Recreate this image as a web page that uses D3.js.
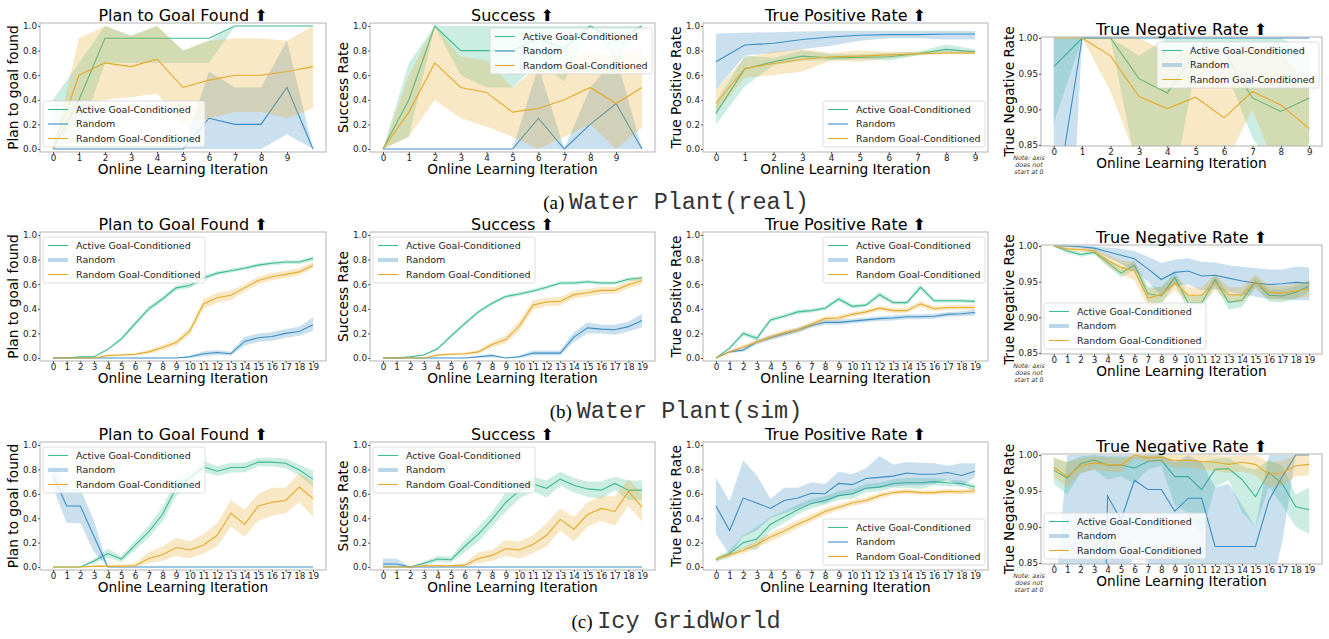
<!DOCTYPE html>
<html>
<head>
<meta charset="utf-8">
<script src="https://cdn.jsdelivr.net/npm/d3@7"></script>
<style>
  body { margin: 0; background: #fff; }
  svg { font-family: "DejaVu Sans", sans-serif; }
</style>
</head>
<body>
<div id="chart"></div>
<script>
// iterations and ticks
const iters11 = [0, 1, 2, 3, 4, 5, 6, 7, 8, 9, 10];
const iters10 = [0, 1, 2, 3, 4, 5, 6, 7, 8, 9];
const iters20 = [0, 1, 2, 3, 4, 5, 6, 7, 8, 9, 10, 11, 12, 13, 14, 15, 16, 17, 18, 19];
const ticks10 = [0, 1, 2, 3, 4, 5, 6, 7, 8, 9];
const ticksRate = [0, 0.2, 0.4, 0.6, 0.8, 1.0];
const ticksTnr = [0.85, 0.9, 0.95, 1.0];

const seriesNames = ["Active Goal-Conditioned", "Random", "Random Goal-Conditioned"];
const seriesColors = ["#3dbb92", "#3b8ec4", "#e6aa2c"];
const titles = ["Plan to Goal Found \u2B06", "Success \u2B06", "True Positive Rate \u2B06", "True Negative Rate \u2B06"];
const yLabels = ["Plan to goal found", "Success Rate", "True Positive Rate", "True Negative Rate"];
const captionTags = ["(a)", "(b)", "(c)"];
const captionNames = ["Water Plant(real)", "Water Plant(sim)", "Icy GridWorld"];
const noteLines = ["Note: axis", "does not", "start at 0"];

// (a) water plant real - plan to goal found
const realPlanActive = [0.0, 0.4, 0.9, 0.9, 0.9, 0.9, 0.9, 1.0, 1.0, 1.0, 1.0];
const realPlanActiveLo = [0.0, 0.1, 0.7, 0.7, 0.7, 0.7, 0.7, 1.0, 1.0, 1.0, 1.0];
const realPlanActiveHi = [0.4, 0.7, 1.0, 0.92, 1.0, 0.8, 0.88, 1.0, 1.0, 1.0, 1.0];
const realPlanRandom = [0, 0, 0, 0, 0, 0, 0.25, 0.2, 0.2, 0.5, 0.0];
const realPlanRandomLo = [0, 0, 0, 0, 0, 0, 0, 0, 0, 0.12, 0];
const realPlanRandomHi = [0, 0, 0, 0, 0, 0, 0.63, 0.5, 0.5, 0.88, 0];
const realPlanRgc = [0, 0.6, 0.7, 0.67, 0.73, 0.5, 0.56, 0.6, 0.6, 0.63, 0.67];
const realPlanRgcLo = [0, 0.27, 0.4, 0.42, 0.45, 0.2, 0.25, 0.3, 0.3, 0.25, 0.33];
const realPlanRgcHi = [0, 0.9, 1.0, 0.92, 1.0, 0.8, 0.88, 0.9, 0.9, 0.88, 1.0];

// (a) success
const realSuccActive = [0, 0.4, 1.0, 0.8, 0.8, 0.8, 0.9, 0.82, 1.0, 0.88, 1.0];
const realSuccActiveLo = [0, 0.1, 1.0, 0.6, 0.5, 0.5, 0.7, 0.55, 1.0, 0.7, 1.0];
const realSuccActiveHi = [0, 0.7, 1.0, 1.0, 1.0, 1.0, 1.0, 1.0, 1.0, 1.0, 1.0];
const realSuccRandom = [0, 0, 0, 0, 0, 0, 0.25, 0, 0.2, 0.37, 0];
const realSuccRandomLo = [0, 0, 0, 0, 0, 0, 0, 0, 0, 0, 0];
const realSuccRandomHi = [0, 0, 0, 0, 0, 0, 0.67, 0, 0.5, 0.75, 0];
const realSuccRgc = [0, 0.3, 0.7, 0.5, 0.46, 0.3, 0.33, 0.4, 0.5, 0.37, 0.5];
const realSuccRgcLo = [0, 0.1, 0.4, 0.25, 0.18, 0.1, 0.0, 0.1, 0.2, 0.0, 0.17];
const realSuccRgcHi = [0, 0.6, 1.0, 0.75, 0.72, 0.5, 0.67, 0.7, 0.8, 0.75, 0.83];

// (a) true positive rate
const realTprActive = [0.29, 0.65, 0.71, 0.755, 0.74, 0.745, 0.75, 0.775, 0.81, 0.79];
const realTprActiveLo = [0.2, 0.51, 0.68, 0.72, 0.72, 0.73, 0.72, 0.76, 0.78, 0.77];
const realTprActiveHi = [0.38, 0.76, 0.74, 0.8, 0.77, 0.77, 0.78, 0.79, 0.85, 0.81];
const realTprRandom = [0.71, 0.845, 0.86, 0.89, 0.91, 0.925, 0.93, 0.93, 0.935, 0.935];
const realTprRandomLo = [0.48, 0.76, 0.78, 0.81, 0.84, 0.88, 0.9, 0.9, 0.89, 0.89];
const realTprRandomHi = [0.94, 0.945, 0.95, 0.955, 0.96, 0.96, 0.96, 0.96, 0.96, 0.96];
const realTprRgc = [0.37, 0.655, 0.695, 0.73, 0.75, 0.755, 0.765, 0.775, 0.78, 0.78];
const realTprRgcLo = [0.3, 0.58, 0.6, 0.63, 0.72, 0.71, 0.74, 0.76, 0.77, 0.77];
const realTprRgcHi = [0.48, 0.74, 0.79, 0.81, 0.78, 0.8, 0.79, 0.79, 0.8, 0.8];

// (a) true negative rate
const realTnrActive = [0.96, 1.0, 1.0, 0.943, 0.923, 0.98, 0.98, 0.916, 0.897, 0.916];
const realTnrActiveLo = [0.88, 1.0, 1.0, 0.8, 0.75, 0.96, 0.96, 0.86, 0.8, 0.8];
const realTnrActiveHi = [1.0, 1.0, 1.0, 0.975, 1.0, 1.0, 1.0, 1.0, 1.0, 0.98];
const realTnrRandom = [0.75, 1.0, 1.0, 1.0, 1.0, 1.0, 1.0, 1.0, 1.0, 1.0];
const realTnrRandomLo = [0.25, 1.0, 1.0, 1.0, 1.0, 1.0, 1.0, 1.0, 1.0, 1.0];
const realTnrRandomHi = [1.0, 1.0, 1.0, 1.0, 1.0, 1.0, 1.0, 1.0, 1.0, 1.0];
const realTnrRgc = [1.0, 1.0, 0.975, 0.918, 0.901, 0.917, 0.888, 0.925, 0.906, 0.873];
const realTnrRgcLo = [1.0, 1.0, 0.925, 0.82, 0.8, 0.82, 0.82, 0.9, 0.8, 0.855];
const realTnrRgcHi = [1.0, 1.0, 1.0, 1.0, 0.98, 0.98, 0.97, 0.99, 0.98, 0.93];

// (b) water plant sim - plan to goal found
const simPlanActive = [0, 0, 0.01, 0.01, 0.07, 0.155, 0.28, 0.4, 0.48, 0.57, 0.59, 0.65, 0.69, 0.71, 0.73, 0.755, 0.77, 0.78, 0.78, 0.81];
const simPlanActiveLo = [0, 0, 0.005, 0.005, 0.06, 0.14, 0.26, 0.38, 0.46, 0.55, 0.57, 0.63, 0.675, 0.695, 0.715, 0.74, 0.755, 0.765, 0.765, 0.79];
const simPlanActiveHi = [0, 0, 0.015, 0.015, 0.08, 0.17, 0.3, 0.42, 0.5, 0.59, 0.61, 0.67, 0.705, 0.725, 0.745, 0.77, 0.785, 0.795, 0.795, 0.83];
const simPlanRandom = [0, 0, 0, 0, 0, 0, 0, 0, 0, 0, 0.01, 0.035, 0.045, 0.035, 0.135, 0.165, 0.175, 0.2, 0.215, 0.27];
const simPlanRandomLo = [0, 0, 0, 0, 0, 0, 0, 0, 0, 0, 0.0, 0.015, 0.025, 0.02, 0.1, 0.13, 0.14, 0.165, 0.18, 0.22];
const simPlanRandomHi = [0, 0, 0, 0, 0, 0, 0, 0, 0, 0, 0.02, 0.055, 0.065, 0.05, 0.17, 0.2, 0.21, 0.235, 0.255, 0.33];
const simPlanRgc = [0, 0, 0, 0, 0.02, 0.025, 0.03, 0.05, 0.085, 0.125, 0.22, 0.44, 0.49, 0.51, 0.57, 0.63, 0.66, 0.68, 0.7, 0.755];
const simPlanRgcLo = [0, 0, 0, 0, 0.01, 0.015, 0.02, 0.035, 0.065, 0.1, 0.19, 0.4, 0.45, 0.47, 0.54, 0.6, 0.63, 0.65, 0.67, 0.73];
const simPlanRgcHi = [0, 0, 0, 0, 0.03, 0.035, 0.04, 0.065, 0.105, 0.15, 0.25, 0.48, 0.53, 0.55, 0.6, 0.66, 0.69, 0.71, 0.73, 0.78];

// (b) success
const simSuccActive = [0, 0, 0.01, 0.025, 0.075, 0.18, 0.28, 0.375, 0.445, 0.5, 0.52, 0.545, 0.575, 0.61, 0.61, 0.62, 0.61, 0.61, 0.64, 0.65];
const simSuccActiveLo = [0, 0, 0.005, 0.02, 0.065, 0.165, 0.265, 0.36, 0.43, 0.485, 0.505, 0.53, 0.56, 0.595, 0.595, 0.605, 0.595, 0.595, 0.625, 0.635];
const simSuccActiveHi = [0, 0, 0.015, 0.03, 0.085, 0.195, 0.295, 0.39, 0.46, 0.515, 0.535, 0.56, 0.59, 0.625, 0.625, 0.635, 0.625, 0.625, 0.655, 0.665];
const simSuccRandom = [0, 0, 0, 0, 0, 0, 0, 0.01, 0.02, 0, 0.01, 0.04, 0.04, 0.04, 0.17, 0.245, 0.235, 0.23, 0.255, 0.305];
const simSuccRandomLo = [0, 0, 0, 0, 0, 0, 0, 0.0, 0.005, 0, 0, 0.02, 0.02, 0.02, 0.13, 0.2, 0.2, 0.19, 0.215, 0.25];
const simSuccRandomHi = [0, 0, 0, 0, 0, 0, 0, 0.02, 0.035, 0, 0.02, 0.06, 0.06, 0.06, 0.21, 0.29, 0.27, 0.27, 0.295, 0.36];
const simSuccRgc = [0, 0, 0, 0, 0.025, 0.03, 0.035, 0.05, 0.11, 0.15, 0.26, 0.43, 0.455, 0.46, 0.515, 0.53, 0.55, 0.55, 0.595, 0.63];
const simSuccRgcLo = [0, 0, 0, 0, 0.015, 0.02, 0.025, 0.035, 0.085, 0.12, 0.22, 0.39, 0.42, 0.425, 0.485, 0.5, 0.52, 0.52, 0.565, 0.6];
const simSuccRgcHi = [0, 0, 0, 0, 0.035, 0.04, 0.045, 0.065, 0.135, 0.18, 0.3, 0.47, 0.49, 0.495, 0.545, 0.56, 0.58, 0.58, 0.625, 0.66];

// (b) true positive rate
const simTprActive = [0, 0.08, 0.2, 0.16, 0.31, 0.34, 0.375, 0.385, 0.405, 0.48, 0.42, 0.43, 0.515, 0.45, 0.45, 0.575, 0.465, 0.465, 0.465, 0.46];
const simTprActiveLo = [0, 0.07, 0.18, 0.14, 0.29, 0.325, 0.355, 0.37, 0.39, 0.46, 0.405, 0.415, 0.49, 0.435, 0.435, 0.55, 0.45, 0.45, 0.45, 0.445];
const simTprActiveHi = [0, 0.09, 0.22, 0.18, 0.33, 0.355, 0.395, 0.4, 0.42, 0.5, 0.435, 0.445, 0.54, 0.465, 0.465, 0.6, 0.48, 0.48, 0.48, 0.475];
const simTprRandom = [0, 0.05, 0.065, 0.13, 0.165, 0.195, 0.225, 0.265, 0.29, 0.29, 0.3, 0.31, 0.32, 0.325, 0.335, 0.335, 0.34, 0.355, 0.36, 0.37];
const simTprRandomLo = [0, 0.04, 0.05, 0.11, 0.145, 0.175, 0.205, 0.245, 0.27, 0.27, 0.28, 0.29, 0.3, 0.305, 0.315, 0.315, 0.32, 0.335, 0.34, 0.345];
const simTprRandomHi = [0, 0.06, 0.08, 0.15, 0.185, 0.215, 0.245, 0.285, 0.31, 0.31, 0.32, 0.33, 0.34, 0.345, 0.355, 0.355, 0.36, 0.375, 0.38, 0.395];
const simTprRgc = [0, 0.05, 0.09, 0.13, 0.17, 0.205, 0.23, 0.275, 0.32, 0.325, 0.355, 0.375, 0.405, 0.385, 0.385, 0.44, 0.4, 0.41, 0.41, 0.41];
const simTprRgcLo = [0, 0.04, 0.075, 0.115, 0.15, 0.185, 0.205, 0.255, 0.3, 0.305, 0.335, 0.355, 0.385, 0.365, 0.365, 0.415, 0.38, 0.39, 0.39, 0.39];
const simTprRgcHi = [0, 0.06, 0.105, 0.145, 0.19, 0.225, 0.25, 0.295, 0.34, 0.345, 0.375, 0.395, 0.425, 0.405, 0.405, 0.465, 0.42, 0.43, 0.43, 0.43];

// (b) true negative rate
const simTnrActive = [1.0, 0.993, 0.988, 0.991, 0.977, 0.962, 0.973, 0.933, 0.93, 0.956, 0.92, 0.92, 0.953, 0.921, 0.924, 0.95, 0.931, 0.93, 0.935, 0.944];
const simTnrActiveLo = [1.0, 0.99, 0.985, 0.988, 0.972, 0.956, 0.967, 0.922, 0.918, 0.947, 0.91, 0.91, 0.945, 0.911, 0.914, 0.943, 0.922, 0.921, 0.926, 0.936];
const simTnrActiveHi = [1.0, 0.996, 0.991, 0.994, 0.982, 0.968, 0.979, 0.944, 0.942, 0.965, 0.93, 0.93, 0.961, 0.931, 0.934, 0.957, 0.94, 0.939, 0.944, 0.952];
const simTnrRandom = [1.0, 1.0, 0.999, 0.997, 0.992, 0.987, 0.982, 0.968, 0.953, 0.963, 0.965, 0.958, 0.959, 0.955, 0.951, 0.948, 0.946, 0.947, 0.949, 0.948];
const simTnrRandomLo = [1.0, 0.999, 0.997, 0.993, 0.984, 0.975, 0.965, 0.95, 0.93, 0.945, 0.946, 0.938, 0.94, 0.936, 0.932, 0.929, 0.926, 0.926, 0.924, 0.924];
const simTnrRandomHi = [1.0, 1.0, 1.0, 1.0, 0.998, 0.996, 0.993, 0.985, 0.976, 0.981, 0.983, 0.978, 0.977, 0.973, 0.971, 0.969, 0.967, 0.967, 0.971, 0.97];
const simTnrRgc = [1.0, 0.996, 0.995, 0.993, 0.98, 0.97, 0.965, 0.927, 0.932, 0.948, 0.931, 0.931, 0.949, 0.932, 0.931, 0.95, 0.935, 0.934, 0.937, 0.94];
const simTnrRgcLo = [1.0, 0.993, 0.992, 0.99, 0.972, 0.96, 0.952, 0.915, 0.922, 0.938, 0.92, 0.92, 0.938, 0.922, 0.92, 0.94, 0.925, 0.924, 0.927, 0.929];
const simTnrRgcHi = [1.0, 0.999, 0.998, 0.996, 0.988, 0.98, 0.978, 0.94, 0.943, 0.958, 0.942, 0.942, 0.96, 0.942, 0.942, 0.96, 0.945, 0.944, 0.947, 0.951];

// (c) icy gridworld - plan to goal found
const gridPlanActive = [0, 0, 0, 0.05, 0.11, 0.065, 0.18, 0.29, 0.43, 0.65, 0.73, 0.82, 0.785, 0.815, 0.815, 0.86, 0.86, 0.85, 0.795, 0.72];
const gridPlanActiveLo = [0, 0, 0, 0.03, 0.075, 0.04, 0.14, 0.24, 0.37, 0.58, 0.68, 0.78, 0.745, 0.775, 0.775, 0.825, 0.825, 0.81, 0.75, 0.66];
const gridPlanActiveHi = [0, 0, 0, 0.07, 0.15, 0.09, 0.22, 0.34, 0.49, 0.72, 0.78, 0.87, 0.825, 0.855, 0.855, 0.895, 0.895, 0.89, 0.84, 0.79];
const gridPlanRandom = [0.75, 0.5, 0.5, 0.25, 0, 0, 0, 0, 0, 0, 0, 0, 0, 0, 0, 0, 0, 0, 0, 0];
const gridPlanRandomLo = [0.65, 0.36, 0.36, 0.12, 0, 0, 0, 0, 0, 0, 0, 0, 0, 0, 0, 0, 0, 0, 0, 0];
const gridPlanRandomHi = [0.86, 0.64, 0.64, 0.38, 0, 0, 0, 0, 0, 0, 0, 0, 0, 0, 0, 0, 0, 0, 0, 0];
const gridPlanRgc = [0, 0, 0, 0.005, 0.005, 0.005, 0.01, 0.07, 0.1, 0.16, 0.14, 0.18, 0.26, 0.44, 0.35, 0.5, 0.53, 0.545, 0.655, 0.56];
const gridPlanRgcLo = [0, 0, 0, 0, 0, 0, 0, 0.03, 0.05, 0.09, 0.07, 0.11, 0.17, 0.33, 0.25, 0.38, 0.42, 0.44, 0.53, 0.41];
const gridPlanRgcHi = [0, 0, 0, 0.02, 0.02, 0.02, 0.03, 0.12, 0.17, 0.24, 0.21, 0.27, 0.36, 0.55, 0.47, 0.6, 0.65, 0.65, 0.77, 0.7];

// (c) success
const gridSuccActive = [0, 0, 0, 0.03, 0.065, 0.06, 0.17, 0.27, 0.39, 0.53, 0.625, 0.68, 0.645, 0.72, 0.67, 0.64, 0.63, 0.685, 0.63, 0.63];
const gridSuccActiveLo = [0, 0, 0, 0.015, 0.04, 0.035, 0.12, 0.21, 0.33, 0.45, 0.56, 0.62, 0.57, 0.665, 0.61, 0.575, 0.56, 0.63, 0.55, 0.55];
const gridSuccActiveHi = [0, 0, 0, 0.045, 0.09, 0.085, 0.22, 0.33, 0.45, 0.61, 0.69, 0.74, 0.71, 0.78, 0.73, 0.7, 0.7, 0.74, 0.71, 0.71];
const gridSuccRandom = [0.025, 0.025, 0, 0, 0, 0, 0, 0, 0, 0, 0, 0, 0, 0, 0, 0, 0, 0, 0, 0];
const gridSuccRandomLo = [0, 0, 0, 0, 0, 0, 0, 0, 0, 0, 0, 0, 0, 0, 0, 0, 0, 0, 0, 0];
const gridSuccRandomHi = [0.07, 0.07, 0, 0, 0, 0, 0, 0, 0, 0, 0, 0, 0, 0, 0, 0, 0, 0, 0, 0];
const gridSuccRgc = [0, 0, 0, 0.01, 0.01, 0.01, 0.015, 0.07, 0.095, 0.15, 0.14, 0.185, 0.26, 0.39, 0.31, 0.43, 0.48, 0.455, 0.62, 0.49];
const gridSuccRgcLo = [0, 0, 0, 0, 0, 0, 0, 0.03, 0.05, 0.09, 0.07, 0.11, 0.17, 0.3, 0.21, 0.33, 0.38, 0.34, 0.5, 0.37];
const gridSuccRgcHi = [0, 0, 0, 0.02, 0.02, 0.02, 0.03, 0.12, 0.14, 0.22, 0.21, 0.26, 0.36, 0.48, 0.41, 0.53, 0.58, 0.58, 0.72, 0.6];

// (c) true positive rate
const gridTprActive = [0.06, 0.11, 0.2, 0.23, 0.35, 0.41, 0.47, 0.52, 0.545, 0.585, 0.6, 0.645, 0.655, 0.685, 0.69, 0.69, 0.7, 0.69, 0.685, 0.655];
const gridTprActiveLo = [0.04, 0.08, 0.15, 0.14, 0.3, 0.36, 0.43, 0.48, 0.51, 0.55, 0.56, 0.61, 0.62, 0.65, 0.65, 0.64, 0.67, 0.66, 0.66, 0.63];
const gridTprActiveHi = [0.08, 0.14, 0.26, 0.33, 0.41, 0.46, 0.51, 0.56, 0.58, 0.62, 0.64, 0.68, 0.69, 0.72, 0.73, 0.73, 0.73, 0.72, 0.71, 0.68];
const gridTprRandom = [0.5, 0.3, 0.565, 0.525, 0.48, 0.545, 0.565, 0.605, 0.6, 0.685, 0.675, 0.725, 0.735, 0.745, 0.77, 0.76, 0.76, 0.775, 0.75, 0.785];
const gridTprRandomLo = [0.27, 0.1, 0.25, 0.3, 0.4, 0.44, 0.48, 0.52, 0.52, 0.58, 0.59, 0.64, 0.65, 0.66, 0.67, 0.67, 0.68, 0.72, 0.66, 0.74];
const gridTprRandomHi = [0.73, 0.54, 0.875, 0.75, 0.56, 0.65, 0.65, 0.695, 0.68, 0.78, 0.76, 0.81, 0.91, 0.84, 0.86, 0.855, 0.85, 0.83, 0.85, 0.85];
const gridTprRgc = [0.065, 0.1, 0.135, 0.185, 0.245, 0.295, 0.35, 0.4, 0.455, 0.49, 0.525, 0.545, 0.585, 0.61, 0.62, 0.61, 0.61, 0.62, 0.615, 0.625];
const gridTprRgcLo = [0.05, 0.08, 0.11, 0.155, 0.21, 0.26, 0.315, 0.37, 0.425, 0.465, 0.5, 0.52, 0.56, 0.59, 0.6, 0.59, 0.59, 0.6, 0.595, 0.6];
const gridTprRgcHi = [0.08, 0.12, 0.16, 0.215, 0.28, 0.33, 0.385, 0.43, 0.485, 0.515, 0.55, 0.57, 0.61, 0.63, 0.64, 0.63, 0.63, 0.64, 0.635, 0.65];

// (c) true negative rate
const gridTnrActive = [0.979, 0.968, 0.988, 0.993, 0.986, 0.986, 0.982, 0.991, 0.993, 0.97, 0.97, 0.952, 0.98, 0.981, 0.966, 0.942, 0.976, 0.96, 0.928, 0.924];
const gridTnrActiveLo = [0.96, 0.945, 0.975, 0.98, 0.966, 0.97, 0.96, 0.98, 0.985, 0.93, 0.92, 0.89, 0.955, 0.965, 0.92, 0.9, 0.955, 0.93, 0.9, 0.89];
const gridTnrActiveHi = [0.996, 0.99, 0.998, 1.0, 0.998, 0.998, 0.997, 0.999, 1.0, 0.99, 0.995, 0.99, 0.995, 0.996, 0.985, 0.98, 0.993, 0.985, 0.945, 0.955];
const gridTnrRandom = [0, 0, 0, 0, 0.943, 0.91, 0.965, 0.952, 0.952, 0.922, 0.94, 0.94, 0.873, 0.873, 0.873, 0.873, 0.937, 0.97, 1.0, 1.0];
const gridTnrRandomLo = [0, 0, 0, 0, 0.75, 0.75, 0.88, 0.85, 0.8, 0.8, 0.8, 0.8, 0.6, 0.6, 0.6, 0.6, 0.8, 0.88, 1.0, 1.0];
const gridTnrRandomHi = [0.78, 1.0, 1.0, 1.0, 1.0, 1.0, 1.0, 1.0, 1.0, 0.99, 1.0, 0.99, 0.955, 0.96, 0.93, 0.9, 1.0, 1.0, 1.0, 1.0];
const gridTnrRgc = [0.983, 0.97, 0.985, 0.989, 0.987, 0.986, 1.0, 0.996, 0.997, 0.992, 0.993, 0.991, 0.99, 0.987, 0.99, 0.987, 0.973, 0.975, 0.985, 0.987];
const gridTnrRgcLo = [0.97, 0.955, 0.975, 0.98, 0.977, 0.976, 0.995, 0.99, 0.99, 0.982, 0.983, 0.98, 0.978, 0.975, 0.977, 0.972, 0.955, 0.958, 0.97, 0.972];
const gridTnrRgcHi = [0.997, 0.99, 0.995, 0.998, 0.997, 0.996, 1.0, 1.0, 1.0, 1.0, 1.0, 1.0, 1.0, 0.998, 1.0, 1.0, 0.99, 0.992, 1.0, 1.0];

// panel table built from the arrays above
const panels = [
  { row: 0, col: 0, xs: iters11, ticks: ticks10, legend: "ll", thick: false,
    series: [[realPlanActive, realPlanActiveLo, realPlanActiveHi], [realPlanRandom, realPlanRandomLo, realPlanRandomHi], [realPlanRgc, realPlanRgcLo, realPlanRgcHi]] },
  { row: 0, col: 1, xs: iters11, ticks: ticks10, legend: "ur", thick: false,
    series: [[realSuccActive, realSuccActiveLo, realSuccActiveHi], [realSuccRandom, realSuccRandomLo, realSuccRandomHi], [realSuccRgc, realSuccRgcLo, realSuccRgcHi]] },
  { row: 0, col: 2, xs: iters10, ticks: iters10, legend: "lr", thick: false,
    series: [[realTprActive, realTprActiveLo, realTprActiveHi], [realTprRandom, realTprRandomLo, realTprRandomHi], [realTprRgc, realTprRgcLo, realTprRgcHi]] },
  { row: 0, col: 3, xs: iters10, ticks: iters10, legend: "ur", thick: true,
    series: [[realTnrActive, realTnrActiveLo, realTnrActiveHi], [realTnrRandom, realTnrRandomLo, realTnrRandomHi], [realTnrRgc, realTnrRgcLo, realTnrRgcHi]] },
  { row: 1, col: 0, xs: iters20, ticks: iters20, legend: "ul", thick: true,
    series: [[simPlanActive, simPlanActiveLo, simPlanActiveHi], [simPlanRandom, simPlanRandomLo, simPlanRandomHi], [simPlanRgc, simPlanRgcLo, simPlanRgcHi]] },
  { row: 1, col: 1, xs: iters20, ticks: iters20, legend: "ul", thick: true,
    series: [[simSuccActive, simSuccActiveLo, simSuccActiveHi], [simSuccRandom, simSuccRandomLo, simSuccRandomHi], [simSuccRgc, simSuccRgcLo, simSuccRgcHi]] },
  { row: 1, col: 2, xs: iters20, ticks: iters20, legend: "ur", thick: true,
    series: [[simTprActive, simTprActiveLo, simTprActiveHi], [simTprRandom, simTprRandomLo, simTprRandomHi], [simTprRgc, simTprRgcLo, simTprRgcHi]] },
  { row: 1, col: 3, xs: iters20, ticks: iters20, legend: "ll", thick: true,
    series: [[simTnrActive, simTnrActiveLo, simTnrActiveHi], [simTnrRandom, simTnrRandomLo, simTnrRandomHi], [simTnrRgc, simTnrRgcLo, simTnrRgcHi]] },
  { row: 2, col: 0, xs: iters20, ticks: iters20, legend: "ul", thick: true,
    series: [[gridPlanActive, gridPlanActiveLo, gridPlanActiveHi], [gridPlanRandom, gridPlanRandomLo, gridPlanRandomHi], [gridPlanRgc, gridPlanRgcLo, gridPlanRgcHi]] },
  { row: 2, col: 1, xs: iters20, ticks: iters20, legend: "ul", thick: true,
    series: [[gridSuccActive, gridSuccActiveLo, gridSuccActiveHi], [gridSuccRandom, gridSuccRandomLo, gridSuccRandomHi], [gridSuccRgc, gridSuccRgcLo, gridSuccRgcHi]] },
  { row: 2, col: 2, xs: iters20, ticks: iters20, legend: "lr", thick: false,
    series: [[gridTprActive, gridTprActiveLo, gridTprActiveHi], [gridTprRandom, gridTprRandomLo, gridTprRandomHi], [gridTprRgc, gridTprRgcLo, gridTprRgcHi]] },
  { row: 2, col: 3, xs: iters20, ticks: iters20, legend: "ll", thick: true,
    series: [[gridTnrActive, gridTnrActiveLo, gridTnrActiveHi], [gridTnrRandom, gridTnrRandomLo, gridTnrRandomHi], [gridTnrRgc, gridTnrRgcLo, gridTnrRgcHi]] }
];

// layout
const width = 1329;
const height = 639;
const colX = [[40, 326], [370, 655], [703, 988], [1041, 1322]];
const rowY = [[23, 152], [232, 361], [442, 570]];
const rowYTnr = [[37, 146], [245, 354], [454, 564]];
const captionY = [209, 418, 628];

const svg = d3.select("#chart").append("svg")
  .attr("width", width)
  .attr("height", height);

panels.forEach((p, i) => {
  const tnr = p.col === 3;
  const [x0, x1] = colX[p.col];
  const [y0, y1] = tnr ? rowYTnr[p.row] : rowY[p.row];
  const n = p.xs.length - 1;

  const x = d3.scaleLinear().domain([-0.05 * n, n * 1.05]).range([x0, x1]);
  const y = tnr
    ? d3.scaleLinear().domain([0.85, 1]).range([y1 - 1, y0 + 1])
    : d3.scaleLinear().domain([0, 1]).range([y1 - 3, y0 + 3]);

  const g = svg.append("g");

  // clip so the bands stay inside the frame
  svg.append("clipPath").attr("id", "clip" + i)
    .append("rect")
    .attr("x", x0).attr("y", y0)
    .attr("width", x1 - x0).attr("height", y1 - y0);

  const plot = g.append("g").attr("clip-path", `url(#clip${i})`);

  p.series.forEach((s, k) => {
    const pts = p.xs.map((v, j) => ({ x: v, m: s[0][j], lo: s[1][j], hi: s[2][j] }));
    plot.append("path")
      .datum(pts)
      .attr("fill", seriesColors[k])
      .attr("fill-opacity", 0.27)
      .attr("d", d3.area().x((d) => x(d.x)).y0((d) => y(d.lo)).y1((d) => y(d.hi)));
    plot.append("path")
      .datum(pts)
      .attr("fill", "none")
      .attr("stroke", seriesColors[k])
      .attr("stroke-width", 1.1)
      .attr("d", d3.line().x((d) => x(d.x)).y((d) => y(d.m)));
  });

  // frame
  g.append("rect")
    .attr("x", x0).attr("y", y0)
    .attr("width", x1 - x0).attr("height", y1 - y0)
    .attr("fill", "none")
    .attr("stroke", "#b3b3b3")
    .attr("stroke-width", 1);

  // x axis
  const xAxis = g.append("g")
    .attr("transform", `translate(0,${y1})`)
    .call(d3.axisBottom(x).tickValues(p.ticks).tickSize(2).tickPadding(0.5));
  xAxis.select(".domain").remove();
  xAxis.attr("font-family", "DejaVu Sans").attr("font-size", 8.8);
  xAxis.selectAll("line").attr("stroke", "#555");
  xAxis.selectAll("text").attr("fill", "#222");

  // y axis
  const yAxis = g.append("g")
    .attr("transform", `translate(${x0},0)`)
    .call(d3.axisLeft(y).tickValues(tnr ? ticksTnr : ticksRate)
      .tickFormat(d3.format(tnr ? ".2f" : ".1f")).tickSize(2).tickPadding(1));
  yAxis.select(".domain").remove();
  yAxis.attr("font-family", "DejaVu Sans").attr("font-size", 8.8);
  yAxis.selectAll("line").attr("stroke", "#555");
  yAxis.selectAll("text").attr("fill", "#222");

  // title
  g.append("text")
    .attr("x", (x0 + x1) / 2)
    .attr("y", y0 - 2.5)
    .attr("text-anchor", "middle")
    .style("font-size", "16px")
    .style("fill", "#000")
    .text(titles[p.col]);

  // x label
  g.append("text")
    .attr("x", (x0 + x1) / 2)
    .attr("y", y1 + 22)
    .attr("text-anchor", "middle")
    .style("font-size", "13.7px")
    .style("fill", "#000")
    .text("Online Learning Iteration");

  // y label
  g.append("text")
    .attr("transform", `translate(${x0 - (tnr ? 32 : 27)},${(y0 + y1) / 2}) rotate(-90)`)
    .attr("dy", "0.35em")
    .attr("text-anchor", "middle")
    .style("font-size", "13.7px")
    .style("fill", "#000")
    .text(yLabels[p.col]);

  // note under the tnr axis
  if (tnr) {
    noteLines.forEach((t, j) => {
      g.append("text")
        .attr("x", x0 - 12)
        .attr("y", y1 + 14 + j * 7)
        .attr("text-anchor", "middle")
        .style("font-size", "6.3px")
        .style("font-style", "italic")
        .style("fill", "#333")
        .text(t);
    });
  }

  // legend
  const lw = 162;
  const lh = 46;
  const lx = p.legend[1] === "l" ? x0 + 3 : x1 - 3 - lw;
  const ly = p.legend[0] === "u" ? y0 + 5 : y1 - 5 - lh;
  const leg = g.append("g").attr("transform", `translate(${lx},${ly})`);
  leg.append("rect")
    .attr("width", lw).attr("height", lh)
    .attr("rx", 2)
    .attr("fill", "#fff").attr("fill-opacity", 0.8)
    .attr("stroke", "#d6d6d6").attr("stroke-width", 0.8);
  seriesNames.forEach((name, k) => {
    const cy = 8.5 + k * 14.5;
    const thick = p.thick && k === 1;
    leg.append("line")
      .attr("x1", 5).attr("x2", 25)
      .attr("y1", cy).attr("y2", cy)
      .attr("stroke", seriesColors[k])
      .attr("stroke-opacity", thick ? 0.35 : 1)
      .attr("stroke-width", thick ? 4 : 1.1);
    leg.append("text")
      .attr("x", 33).attr("y", cy)
      .attr("dy", "0.35em")
      .style("font-size", "9.5px")
      .style("fill", "#222")
      .text(name);
  });
});

// captions under each row
captionTags.forEach((tag, i) => {
  const t = svg.append("text")
    .attr("x", 676)
    .attr("y", captionY[i])
    .attr("text-anchor", "middle");
  t.append("tspan")
    .style("font-family", "Liberation Serif, serif")
    .style("font-size", "19px")
    .text(tag + " ");
  t.append("tspan")
    .style("font-family", "Liberation Mono, monospace")
    .style("font-size", "23.5px")
    .style("fill", "#333")
    .text(captionNames[i]);
});
</script>
</body>
</html>
